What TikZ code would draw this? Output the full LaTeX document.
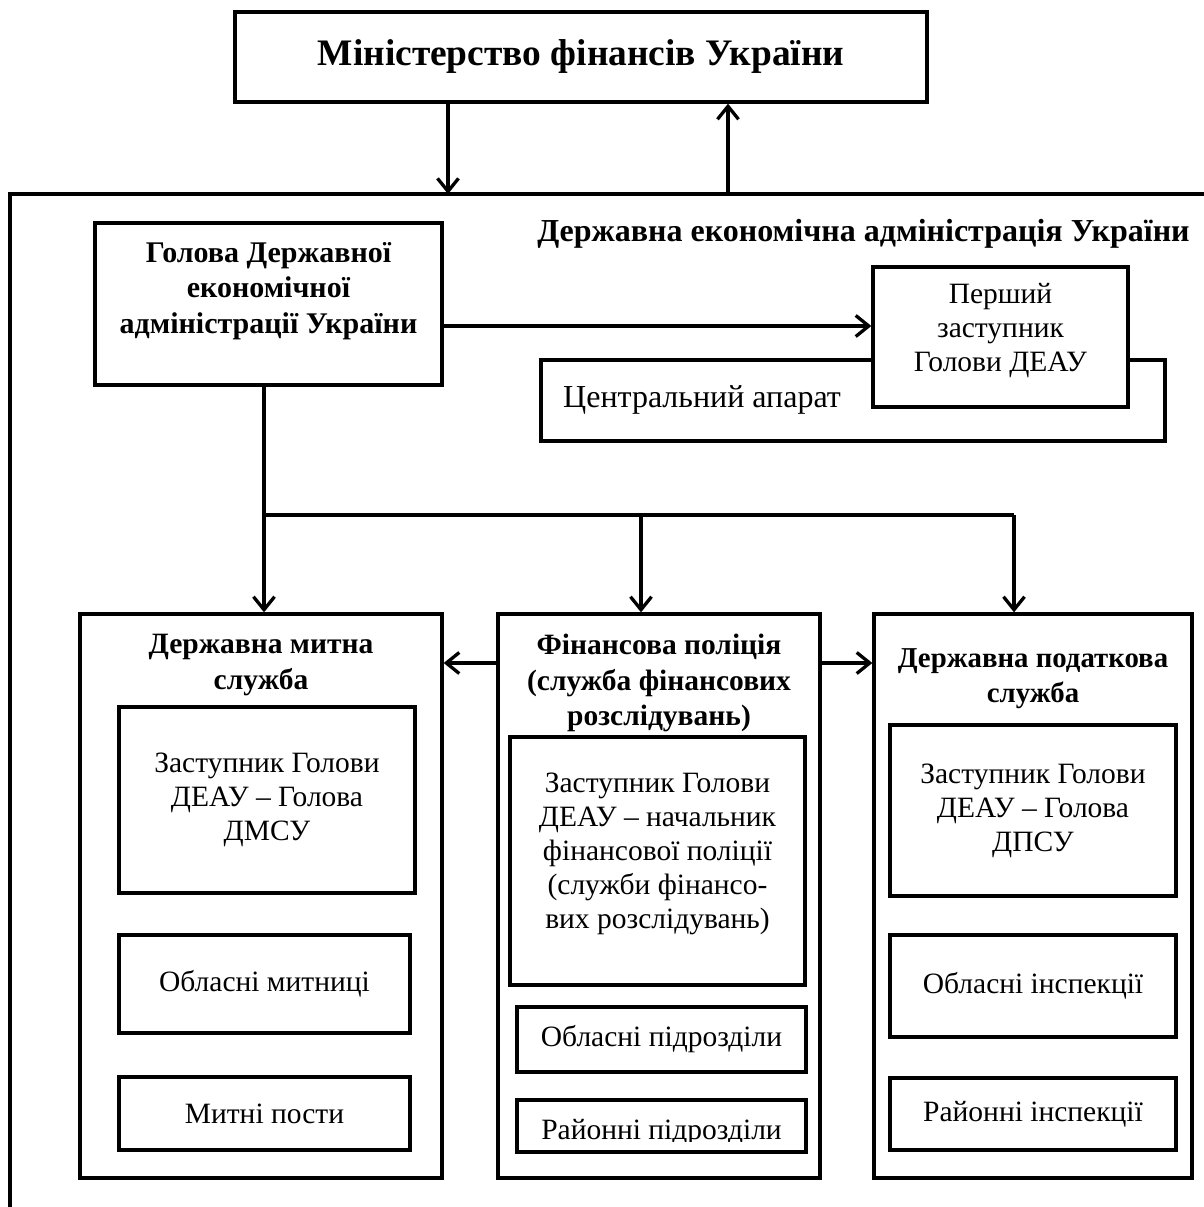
\documentclass[tikz,border=0pt]{standalone}
\usepackage{fontspec}
\setmainfont{Liberation Serif}
\usetikzlibrary{arrows.meta}
\tikzset{
  ln/.style={line width=3.3pt},
  box/.style={draw, line width=3.3pt, fill=white, inner sep=0pt, align=center},
  arr/.style={line width=3.3pt, -{Straight Barb[length=13pt,width=21pt]}},
  rg/.style={font=\fontsize{29.5}{34}\selectfont, align=center},
  bd/.style={font=\fontsize{29.5}{35.5}\selectfont\bfseries, align=center},
  ttl/.style={font=\fontsize{37.4}{40}\selectfont\bfseries},
}
\begin{document}
\begin{tikzpicture}[x=1pt,y=-1pt]
\useasboundingbox (0,0) rectangle (1203,1207);
% Ministry
\node[box, ttl, minimum width=692pt, minimum height=90pt] (mf) at (581,57) {Міністерство фінансів України};
% frame
\coordinate (fc) at (10,194);
\coordinate (fa) at (448,194);
\coordinate (fb) at (728,194);
\draw[ln] (10,1210) -- (fc) -- (1206,194);
\draw[arr] (mf.south -| fa) -- (fa);
\draw[arr] (fb) -- (mf.south -| fb);
\node[bd, font=\fontsize{32}{35}\selectfont\bfseries] (deau) at (863.5,234) {Державна економічна адміністрація України};
% head
\node[box, minimum width=347pt, minimum height=162pt] (head) at (268.5,304) {};
\node[bd, font=\fontsize{30}{35.5}\selectfont\bfseries] (headt) at (268.5,291) {Голова Державної\\економічної\\адміністрації України};
% central apparatus and first deputy
\node[box, minimum width=624pt, minimum height=81pt] (ca) at (853,400.5) {};
\node[rg, font=\fontsize{32}{34}\selectfont, anchor=west, inner sep=0pt] (cat) at (563,400) {Центральний апарат};
\node[box, minimum width=255pt, minimum height=140pt] (first) at (1000.5,337) {};
\node[rg] (firstt) at (1000.5,331) {Перший\\заступник\\Голови ДЕАУ};
\coordinate (y328) at (0,326);
\draw[arr] (head.east |- y328) -- (first.west |- y328);
% services
\node[box, minimum width=362pt, minimum height=564pt] (dms) at (261,896) {};
\node[box, minimum width=322pt, minimum height=564pt] (fp) at (659,896) {};
\node[box, minimum width=318pt, minimum height=564pt] (dps) at (1033,896) {};
% tree
\coordinate (j1) at (264,515);
\coordinate (j2) at (641,515);
\coordinate (j3) at (1014,515);
\draw[ln] (head.south -| j1) -- (j1) -- (j3);
\draw[arr] (j1) -- (dms.north -| j1);
\draw[arr] (j2) -- (fp.north -| j2);
\draw[arr] (j3) -- (dps.north -| j3);
\coordinate (y663) at (0,663);
\draw[arr] (fp.west |- y663) -- (dms.east |- y663);
\draw[arr] (fp.east |- y663) -- (dps.west |- y663);
% customs
\node[bd] (dmst) at (261,665) {Державна митна\\служба};
\node[box, rg, minimum width=296pt, minimum height=186pt] (dms1) at (267,800) {Заступник Голови\\ДЕАУ – Голова\\ДМСУ};
\node[box, rg, minimum width=291pt, minimum height=98pt] (dms2) at (264.5,984) {Обласні митниці};
\node[box, rg, minimum width=291pt, minimum height=73pt] (dms3) at (264.5,1113.5) {Митні пости};
% financial police
\node[bd] (fpt) at (659,683) {Фінансова поліція\\(служба фінансових\\розслідувань)};
\node[box, minimum width=295pt, minimum height=248pt] (fp1) at (657.5,861) {};
\node[rg] (fp1t) at (657.5,854) {Заступник Голови\\ДЕАУ – начальник\\фінансової поліції\\(служби фінансо-\\вих розслідувань)};
\node[box, rg, minimum width=289pt, minimum height=65pt] (fp2) at (661.5,1039.5) {Обласні підрозділи};
\node[box, minimum width=289pt, minimum height=52pt] (fp3) at (661.5,1126) {};
\begin{scope}
\clip (517,1100) rectangle (806,1141.5);
\node[rg, anchor=base] (fp3t) at (661.5,1139) {Районні підрозділи};
\end{scope}
% tax
\node[bd, font=\fontsize{28.8}{35}\selectfont\bfseries] (dpst) at (1033,679) {Державна податкова\\служба};
\node[box, rg, minimum width=286pt, minimum height=171pt] (dps1) at (1033,810.5) {Заступник Голови\\ДЕАУ – Голова\\ДПСУ};
\node[box, rg, minimum width=286pt, minimum height=102pt] (dps2) at (1033,986) {Обласні інспекції};
\node[box, rg, minimum width=286pt, minimum height=72pt] (dps3) at (1033,1114) {Районні інспекції};
\end{tikzpicture}
\end{document}
